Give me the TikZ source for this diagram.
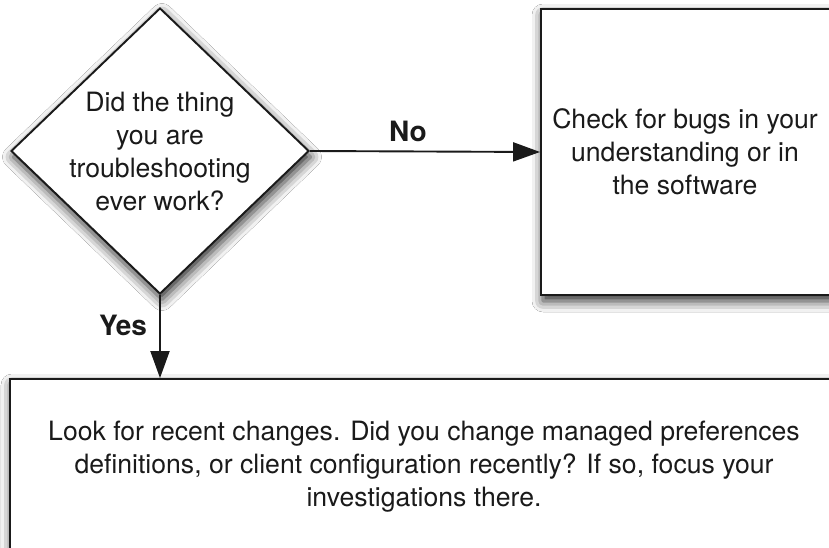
\documentclass[tikz,border=0pt]{standalone}
\usepackage{fontspec}
\setmainfont{TeX Gyre Heros}
\usetikzlibrary{shapes.geometric,arrows.meta,shadows.blur}
\definecolor{ink}{HTML}{1A1A1A}
\tikzset{
  outline/.style={draw=ink, line width=1.9pt, fill=white,
    blur shadow={shadow xshift=2pt, shadow yshift=-6pt, shadow blur radius=11pt, shadow opacity=85}},
  decision/.style={outline, diamond, minimum width=298pt, minimum height=286pt, inner sep=0pt},
  boxnode/.style={outline, rectangle, inner sep=0pt},
  bodytext/.style={text=ink, align=center, font=\fontsize{26.6}{33}\selectfont},
  lbl/.style={text=ink, font=\fontsize{28}{32}\selectfont\bfseries},
  conn/.style={draw=ink, line width=1.9pt, -{Triangle[length=27pt,width=19pt]}}
}
\begin{document}
\begin{tikzpicture}[x=1pt,y=-1pt]
\clip (0,0) rectangle (829,548);
\fill[white] (0,0) rectangle (829,548);
\node[decision] (q) at (160,151) {};
\node[bodytext] (qt) at (160,152) {Did the thing\\you are\\troubleshooting\\ever work?};
\node[boxnode, minimum width=292pt, minimum height=286pt] (check) at (687,152) {};
\node[bodytext] (ct) at (685,152) {Check for bugs in your\\understanding or in\\the software};
\node[boxnode, minimum width=840pt, minimum height=180pt] (look) at (430,469) {};
\node[bodytext] (lt) at (424,467) {Look for recent changes. Did you change managed preferences\\definitions, or client configuration recently? If so, focus your\\investigations there.};
\draw[conn] (q.east) -- (check.west);
\draw[conn] (q.south) -- (q.south |- look.north);
\node[lbl] (no) at (408,131) {No};
\node[lbl] (yes) at (123,325) {Yes};
\end{tikzpicture}
\end{document}
